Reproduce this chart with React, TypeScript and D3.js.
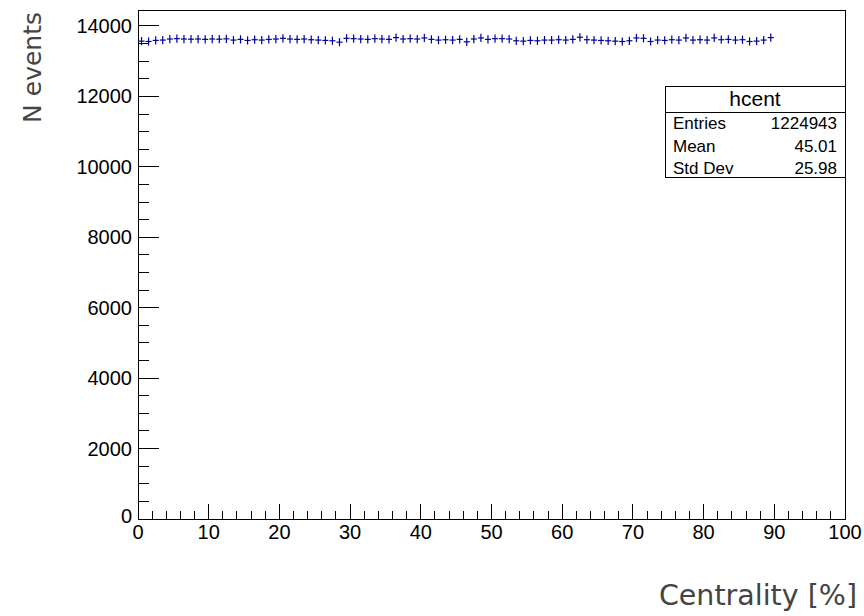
import React from "react";
import * as d3 from "d3";

const binLow: number[] = Array.from({ length: 90 }, (_, i) => i);
const counts: number[] = [
  13570, 13560, 13590, 13600, 13630, 13640, 13630, 13625, 13630, 13620,
  13630, 13625, 13635, 13600, 13620, 13590, 13610, 13600, 13620, 13630,
  13650, 13630, 13620, 13630, 13610, 13600, 13590, 13580, 13540, 13650,
  13640, 13630, 13620, 13640, 13630, 13620, 13670, 13630, 13640, 13630,
  13660, 13620, 13600, 13610, 13600, 13620, 13550, 13630, 13660, 13620,
  13640, 13640, 13630, 13580, 13570, 13590, 13580, 13600, 13600, 13610,
  13600, 13620, 13680, 13610, 13600, 13590, 13580, 13570, 13560, 13580,
  13660, 13650, 13560, 13600, 13590, 13610, 13600, 13660, 13600, 13610,
  13600, 13660, 13610, 13620, 13600, 13610, 13560, 13570, 13600, 13670,
];
const xTicks: number[] = [0, 10, 20, 30, 40, 50, 60, 70, 80, 90, 100];
const yTicks: number[] = [0, 2000, 4000, 6000, 8000, 10000, 12000, 14000];
const statLabels: string[] = ["Entries", "Mean", "Std Dev"];
const statValues: string[] = ["1224943", "45.01", "25.98"];
const histName = "hcent";
const xTitle = "Centrality [%]";
const yTitle = "N events";

const W = 864;
const H = 616;
const L = 138, R = 845, T = 10, B = 519;
const color = "#000099";

export default function App() {
  const x = d3.scaleLinear().domain([0, 100]).range([L, R]);
  const y = d3.scaleLinear().domain([0, 14454]).range([B, T]);
  const xMinor = d3.range(0, 101, 2).filter((v) => v % 10 !== 0);
  const yMinor = d3.range(0, 14455, 500).filter((v) => v % 2000 !== 0);
  const tickFont = "'Liberation Sans', Arial, sans-serif";
  const titleFont = "'DejaVu Sans', sans-serif";

  const sx0 = 665, sx1 = 845, sy0 = 86, sy1 = 112, sy2 = 177;
  const rowY = [123, 146, 168];

  return (
    <svg width={W} height={H} style={{ position: "absolute", left: 0, top: 0, background: "#fff" }}>
      <rect x={0} y={0} width={W} height={H} fill="#fff" />
      {/* frame */}
      <rect x={L} y={T} width={R - L} height={B - T} fill="none" stroke="#000" strokeWidth={1} shapeRendering="crispEdges" />
      {/* x ticks */}
      {xTicks.map((v) => (
        <line key={"xt" + v} x1={x(v)} x2={x(v)} y1={B} y2={B - 15} stroke="#000" shapeRendering="crispEdges" />
      ))}
      {xMinor.map((v) => (
        <line key={"xm" + v} x1={x(v)} x2={x(v)} y1={B} y2={B - 8} stroke="#000" shapeRendering="crispEdges" />
      ))}
      {xTicks.map((v) => (
        <text key={"xl" + v} x={x(v)} y={532} dy="0.35em" textAnchor="middle" fontFamily={tickFont} fontSize={20} fill="#000">
          {v}
        </text>
      ))}
      {/* y ticks */}
      {yTicks.map((v) => (
        <line key={"yt" + v} x1={L} x2={L + 21} y1={y(v)} y2={y(v)} stroke="#000" shapeRendering="crispEdges" />
      ))}
      {yMinor.map((v) => (
        <line key={"ym" + v} x1={L} x2={L + 11} y1={y(v)} y2={y(v)} stroke="#000" shapeRendering="crispEdges" />
      ))}
      {yTicks.map((v) => (
        <text key={"yl" + v} x={132} y={v === 0 ? y(v) - 3 : y(v)} dy="0.35em" textAnchor="end" fontFamily={tickFont} fontSize={20} fill="#000">
          {v}
        </text>
      ))}
      {/* data */}
      {counts.map((c, i) => {
        const xl = x(binLow[i]);
        const xr = x(binLow[i] + 1);
        const xc = (xl + xr) / 2;
        const e = Math.sqrt(c);
        return (
          <g key={"b" + i} stroke={color} strokeWidth={1.2}>
            <line x1={xl + 0.5} x2={xr - 0.5} y1={y(c)} y2={y(c)} />
            <line x1={xc} x2={xc} y1={y(c - e)} y2={y(c + e)} />
          </g>
        );
      })}
      {/* stats box */}
      <rect x={sx0} y={sy0} width={sx1 - sx0} height={sy2 - sy0} fill="#fff" stroke="#000" strokeWidth={1} shapeRendering="crispEdges" />
      <line x1={sx0} x2={sx1} y1={sy1} y2={sy1} stroke="#000" shapeRendering="crispEdges" />
      <text x={(sx0 + sx1) / 2} y={(sy0 + sy1) / 2} dy="0.35em" textAnchor="middle" fontFamily={tickFont} fontSize={21} fill="#000">
        {histName}
      </text>
      {statLabels.map((s, i) => (
        <text key={"sl" + i} x={sx0 + 8} y={rowY[i]} dy="0.35em" fontFamily={tickFont} fontSize={17} fill="#000">
          {s}
        </text>
      ))}
      {statValues.map((s, i) => (
        <text key={"sv" + i} x={sx1 - 8} y={rowY[i]} dy="0.35em" textAnchor="end" fontFamily={tickFont} fontSize={17} fill="#000">
          {s}
        </text>
      ))}
      {/* axis titles */}
      <text x={857} y={605} textAnchor="end" fontFamily={titleFont} fontSize={28.5} fill="#444">
        {xTitle}
      </text>
      <text transform={`translate(41, 12) rotate(-90)`} textAnchor="end" fontFamily={titleFont} fontSize={25} fill="#444">
        {yTitle}
      </text>
    </svg>
  );
}
